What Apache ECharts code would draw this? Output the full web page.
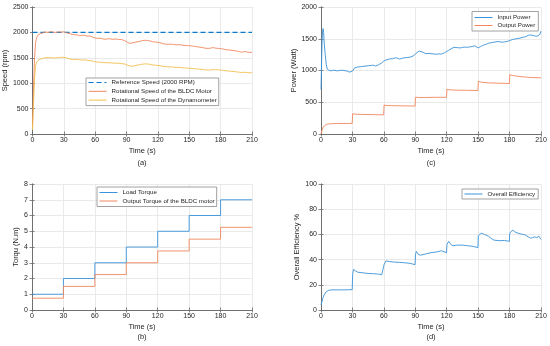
<!DOCTYPE html>
<html><head><meta charset="utf-8">
<script src="https://cdn.jsdelivr.net/npm/echarts@6/dist/echarts.min.js"></script>
<style>html,body{margin:0;padding:0;background:#fff}#c{width:550px;height:346px}</style>
</head><body><div id="c"></div>
<script>
// ---- (a) speed ----
const tA = [0,1,2,3,4,5,6,8,10,12,
  15,18,20,22,25,28,30,32,35,38,
  40,43,45,48,50,53,55,58,60,63,
  65,68,70,73,75,78,80,83,85,88,
  90,93,95,98,100,103,105,108,110,113,
  115,118,120,123,125,128,130,133,135,138,
  140,143,145,148,150,153,155,158,160,163,
  165,168,170,173,175,178,180,183,185,188,
  190,193,195,198,200,203,205,208,210];
const motorSpeed = [100,900,1500,1800,1900,1940,1960,1980,1990,2010,
  2000,2015,2005,2000,2010,2005,2015,1995,1980,1960,
  1955,1950,1935,1945,1940,1925,1930,1905,1890,1880,
  1885,1870,1865,1875,1870,1865,1870,1860,1860,1840,
  1815,1785,1790,1805,1815,1825,1840,1845,1840,1830,
  1815,1810,1805,1790,1775,1770,1765,1770,1760,1755,
  1760,1750,1745,1740,1740,1730,1725,1715,1710,1700,
  1690,1685,1690,1700,1690,1685,1680,1670,1660,1655,
  1650,1640,1635,1620,1610,1625,1615,1605,1610];
const dynoSpeed = [80,600,1100,1350,1420,1450,1460,1475,1490,1500,
  1505,1500,1495,1500,1505,1510,1510,1500,1480,1470,
  1465,1470,1460,1455,1460,1450,1445,1435,1420,1415,
  1410,1405,1405,1400,1400,1395,1395,1390,1385,1380,
  1360,1340,1335,1345,1355,1365,1375,1380,1378,1370,
  1360,1355,1350,1340,1330,1325,1320,1322,1315,1310,
  1312,1305,1300,1298,1295,1290,1285,1280,1275,1270,
  1262,1258,1262,1268,1265,1262,1258,1250,1245,1240,
  1235,1228,1225,1215,1210,1215,1210,1205,1205];
const tRef = [0,210];
const refSpeed = [2000,2000];

// ---- (b) torque ----
const tB = [0,30,60,90,120,150,180,210];
const loadTorque = [1,2,3,4,5,6,7,7];
const motorTorque = [0.75,1.5,2.25,3,3.75,4.5,5.25,5.25];

// ---- (c) power ----
const tIn = [0,0.5,1,1.5,2,2.5,3,4,5,6,
  7,8,10,12,15,18,20,22,25,27,
  28,30,32,33,35,38,40,43,45,48,
  50,52,53,55,58,60,62,65,68,70,
  72,75,78,80,83,85,88,90,92,94,
  95,97,100,103,105,108,110,113,115,118,
  120,122,125,127,130,133,135,138,140,143,
  145,147,150,152,155,158,160,163,165,168,
  170,173,175,178,180,183,185,188,190,193,
  195,198,200,203,205,207,209,210];
const inputPower = [700,1100,1450,1620,1660,1600,1450,1250,1100,1020,
  995,1000,995,1005,995,1000,1005,1000,990,975,
  970,990,1040,1050,1055,1060,1065,1070,1075,1080,
  1085,1070,1060,1090,1120,1150,1165,1180,1185,1195,
  1200,1180,1195,1200,1205,1210,1230,1255,1290,1305,
  1300,1290,1265,1270,1265,1260,1255,1262,1258,1280,
  1300,1320,1350,1365,1360,1355,1365,1368,1365,1375,
  1378,1390,1355,1375,1400,1415,1430,1440,1445,1455,
  1455,1445,1450,1460,1470,1490,1495,1505,1510,1525,
  1530,1555,1560,1550,1540,1545,1570,1620];
const tOut = [0,1,2,3,5,7,10,15,20,25,
  29.8,30.2,33,40,50,59.8,60.2,63,70,80,
  89.8,90.2,93,100,110,119.8,120.2,123,130,140,
  149.8,150.2,153,160,170,179.8,180.2,183,190,200,210];
const outputPower = [0,60,110,135,150,158,162,165,165,166,
  167,318,312,308,305,302,455,448,445,443,
  440,580,575,575,578,578,705,695,690,688,
  685,830,815,805,800,795,935,920,905,890,885];

// ---- (d) efficiency ----
const tEff = [0,1,2,3,4,5,6,7,8,10,
  15,20,25,29.8,30.2,31,33,35,40,45,
  50,55,58,59.8,60.2,62,65,70,75,80,
  85,89.8,90.2,91,93,95,100,105,110,115,
  119.8,120.2,122,124,126,130,135,140,145,149.8,
  150.2,153,156,160,163,165,170,175,179.8,180.2,
  183,185,188,190,193,195,198,200,202,204,
  206,208,210];
const efficiency = [4,7,10,12,13.5,14.5,15,15.5,15.8,16,
  16,16,16,16.2,28,32.3,31,30,29.5,29,
  28.8,28.5,28,27,36,39,38.5,38,37.8,37.5,
  37,36,44,46.5,44,43.5,44.5,45.5,46,47,
  45.5,52,54.5,52,51,51.5,51.5,51,50.5,49.5,
  59,61,60,58.5,56.5,55.5,55,55.2,54.5,61,
  63.5,62,61,60.5,60,59.5,58,57,57.5,58,
  57.5,58.5,56];

const pairs = (t, v) => t.map((x, i) => [x, v[i]]);
const FONT = 'Liberation Sans, Arial, sans-serif';
const BLUE = '#3A93DA', ORANGE = '#F0875E', YELLOW = '#F2C04C', REFB = '#0B78C8';
const AXC = '#6a6a6a';

const grids = [
  {left: 32, top: 7, width: 220, height: 127},
  {left: 32, top: 184, width: 220, height: 126},
  {left: 321, top: 7, width: 220, height: 127},
  {left: 321, top: 184, width: 220, height: 126}
];
const yCfg = [
  {max: 2500, interval: 500, name: 'Speed (rpm)', gap: 17.5},
  {max: 8, interval: 1, name: 'Torqu (N.m)', gap: 8},
  {max: 2000, interval: 500, name: 'Power (Watt)', gap: 15},
  {max: 100, interval: 20, name: 'Overall Efficiency %', gap: 13.5}
];

const xAxis = [], yAxis = [];
grids.forEach((g, i) => {
  xAxis.push({
    type: 'value', gridIndex: i, min: 0, max: 210, interval: 30,
    name: 'Time (s)', nameLocation: 'middle', nameGap: 13,
    nameTextStyle: {fontSize: 7.5, color: '#262626', fontFamily: FONT},
    axisLine: {show: true, lineStyle: {color: AXC, width: 0.8}},
    axisTick: {show: true, inside: true, length: 2.5, lineStyle: {color: AXC, width: 0.8}},
    axisLabel: {fontSize: 7, color: '#262626', margin: 3, fontFamily: FONT, formatter: v => String(v)},
    splitLine: {show: true, lineStyle: {color: '#e4e4e4', width: 0.8}}
  });
  xAxis.push({
    type: 'value', gridIndex: i, position: 'top', min: 0, max: 210, interval: 30,
    axisLine: {show: true, lineStyle: {color: AXC, width: 0.8}},
    axisTick: {show: true, inside: true, length: 2.5, lineStyle: {color: AXC, width: 0.8}},
    axisLabel: {show: false}, splitLine: {show: false}
  });
  const c = yCfg[i];
  yAxis.push({
    type: 'value', gridIndex: i, min: 0, max: c.max, interval: c.interval,
    name: c.name, nameLocation: 'middle', nameGap: c.gap,
    nameTextStyle: {fontSize: 7.5, color: '#262626', fontFamily: FONT},
    axisLine: {show: true, lineStyle: {color: AXC, width: 0.8}},
    axisTick: {show: true, inside: true, length: 2.5, lineStyle: {color: AXC, width: 0.8}},
    axisLabel: {fontSize: 7, color: '#262626', margin: 4, fontFamily: FONT, formatter: v => String(v)},
    splitLine: {show: true, lineStyle: {color: '#e4e4e4', width: 0.8}}
  });
  yAxis.push({
    type: 'value', gridIndex: i, position: 'right', min: 0, max: c.max, interval: c.interval,
    axisLine: {show: true, lineStyle: {color: AXC, width: 0.8}},
    axisTick: {show: true, inside: true, length: 2.5, lineStyle: {color: AXC, width: 0.8}},
    axisLabel: {show: false}, splitLine: {show: false}
  });
});

function line(name, data, gi, color, extra) {
  return Object.assign({
    type: 'line', name, data, xAxisIndex: gi * 2, yAxisIndex: gi * 2,
    symbol: 'none', showSymbol: false, clip: true,
    lineStyle: {color, width: 0.9}, itemStyle: {color}
  }, extra || {});
}

const series = [
  line('Reference Speed (2000 RPM)', pairs(tRef, refSpeed), 0, REFB, {lineStyle: {color: REFB, width: 1.3, type: [5, 3]}}),
  line('Rotational Speed of the BLDC Motor', pairs(tA, motorSpeed), 0, ORANGE),
  line('Rotational Speed of the Dynamometer', pairs(tA, dynoSpeed), 0, YELLOW),
  line('Load Torque', pairs(tB, loadTorque), 1, BLUE, {step: 'end'}),
  line('Output Torque of the BLDC motor', pairs(tB, motorTorque), 1, ORANGE, {step: 'end'}),
  line('Input Power', pairs(tIn, inputPower), 2, BLUE),
  line('Output Power', pairs(tOut, outputPower), 2, ORANGE),
  line('Overall Efficiency', pairs(tEff, efficiency), 3, BLUE)
];

function legend(names, left, top, pad, gap) {
  return {
    data: names, left, top, orient: 'vertical',
    backgroundColor: '#fff', borderColor: '#8a8a8a', borderWidth: 0.8,
    padding: pad, itemWidth: 18, itemHeight: 7, itemGap: gap,
    itemStyle: {opacity: 0},
    lineStyle: {width: 1},
    textStyle: {fontSize: 6.2, color: '#262626', fontFamily: FONT, lineHeight: 7},
    selectedMode: false
  };
}

const txt = (t, x, y) => ({type: 'text', x, y, style: {text: t, fill: '#262626', font: '7.5px ' + FONT, textAlign: 'center', textVerticalAlign: 'middle'}});

const option = {
  animation: false,
  backgroundColor: '#fff',
  grid: grids,
  xAxis, yAxis, series,
  legend: [
    legend(['Reference Speed (2000 RPM)', 'Rotational Speed of the BLDC Motor', 'Rotational Speed of the Dynamometer'], 86, 78, [1, 2, 2, 2], 1.8),
    legend(['Load Torque', 'Output Torque of the BLDC motor'], 97, 187, [2, 2, 2, 2], 1.5),
    legend(['Input Power', 'Output Power'], 472, 11.5, [2.5, 3, 2, 2], 1),
    legend(['Overall Efficiency'], 462, 189, [1.5, 3, 1.5, 2], 1)
  ],
  graphic: [
    txt('(a)', 142, 163), txt('(b)', 142, 337), txt('(c)', 431, 163), txt('(d)', 431, 337)
  ]
};

const chart = echarts.init(document.getElementById('c'), null, {renderer: 'canvas'});
chart.setOption(option);
</script>
</body></html>
